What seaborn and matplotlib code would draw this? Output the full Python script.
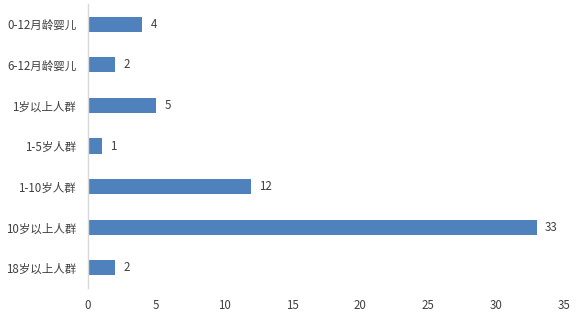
import matplotlib
matplotlib.use("Agg")
import matplotlib.pyplot as plt
import seaborn as sns
import pandas as pd

categories = ["0-12月龄婴儿", "6-12月龄婴儿", "1岁以上人群", "1-5岁人群", "1-10岁人群", "10岁以上人群", "18岁以上人群"]
values = [4, 2, 5, 1, 12, 33, 2]
xticks = [0, 5, 10, 15, 20, 25, 30, 35]

sns.set_theme(style="white")
plt.rcParams['font.family'] = ['Noto Sans CJK SC', 'DejaVu Sans']

df = pd.DataFrame({"cat": categories, "val": values})

fig = plt.figure(figsize=(5.8, 3.17), dpi=100)
ax = fig.add_axes([88/580, 1-288.3/317, (564-88)/580, (288.3-3.7)/317])
sns.barplot(data=df, y="cat", x="val", color="#4F81BD", saturation=1, width=0.37,
            ax=ax, orient="h", linewidth=0)

text_color = "#404040"
for i, v in enumerate(values):
    ax.text(v + 0.6, i, str(v), va="center", ha="left", fontsize=8.3, color=text_color)

ax.set_xlim(0, 35)
ax.set_xticks(xticks)
ax.set_xticklabels([str(t) for t in xticks], fontsize=8.3, color=text_color)
ax.set_yticklabels(categories, fontsize=8.3, color=text_color)
ax.set_xlabel("")
ax.set_ylabel("")
ax.tick_params(axis="y", length=0, pad=8.5)
ax.tick_params(axis="x", length=0, pad=7.5)
for s in ["top", "right", "bottom"]:
    ax.spines[s].set_visible(False)
ax.spines["left"].set_color("#D9D9D9")
ax.spines["left"].set_linewidth(1)
ax.grid(False)

fig.savefig("out.png", dpi=100)
